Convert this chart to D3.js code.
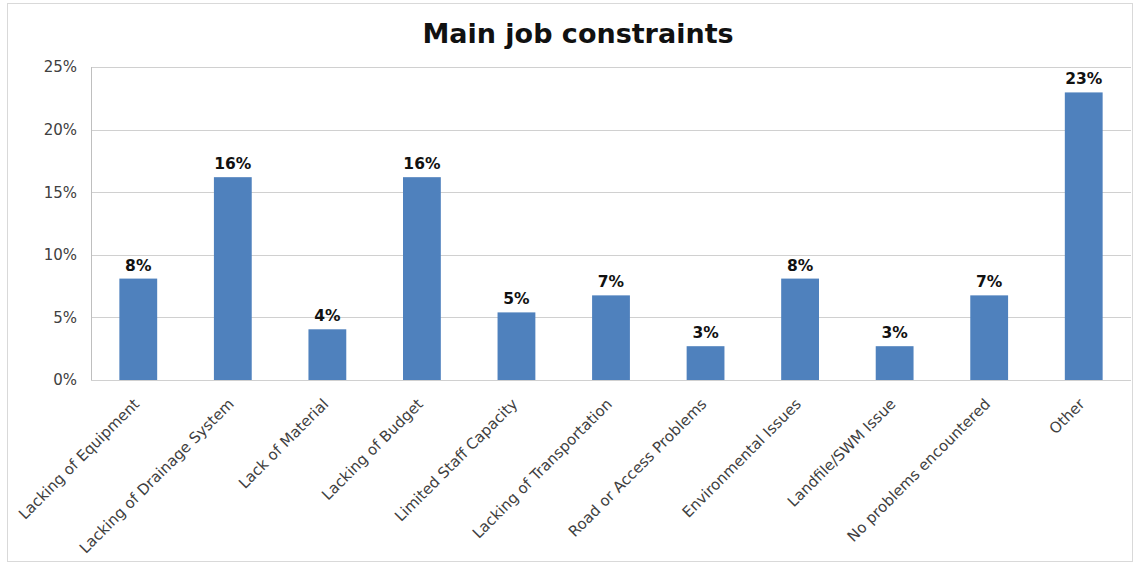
<!DOCTYPE html>
<meta charset="UTF-8">
<style>
body { margin: 0; background: #fff; }
.grid line { stroke: #d0d0d0; stroke-width: 1px; }
.axis text { font: 15px "DejaVu Sans", Verdana, sans-serif; fill: #404040; }
.bar { fill: #4f81bd; }
.val { font: bold 15.5px "DejaVu Sans", Verdana, sans-serif; fill: #111; }
</style>
<body>
<script src="https://d3js.org/d3.v7.min.js"></script>
<script>
// categories and values (percent of responses)
var categories = ["Lacking of Equipment", "Lacking of Drainage System", "Lack of Material",
  "Lacking of Budget", "Limited Staff Capacity", "Lacking of Transportation",
  "Road or Access Problems", "Environmental Issues", "Landfile/SWM Issue",
  "No problems encountered", "Other"];
var values = [8.1, 16.2, 4.05, 16.2, 5.4, 6.76, 2.7, 8.1, 2.7, 6.76, 22.97];
var yTicks = [0, 5, 10, 15, 20, 25];

var W = 1138, H = 563;
var margin = {top: 67, right: 7, bottom: 183, left: 91};

var svg = d3.select("body").append("svg")
    .attr("width", W)
    .attr("height", H);

// outer frame
svg.append("rect")
    .attr("x", 7.5).attr("y", 3.5)
    .attr("width", 1125).attr("height", 558)
    .attr("fill", "#fff")
    .attr("stroke", "#d9d9d9");

var x = d3.scaleBand()
    .domain(categories)
    .range([margin.left, W - margin.right])
    .paddingInner(0.6)
    .paddingOuter(0.3);

var y = d3.scaleLinear()
    .domain([0, 25])
    .range([H - margin.bottom, margin.top]);

// gridlines
svg.append("g").attr("class", "grid")
  .selectAll("line")
  .data(yTicks)
  .enter().append("line")
    .attr("x1", margin.left).attr("x2", W - margin.right)
    .attr("y1", d => Math.round(y(d)) + 0.5)
    .attr("y2", d => Math.round(y(d)) + 0.5);

// left axis line
svg.append("line")
    .attr("x1", margin.left + 0.5).attr("x2", margin.left + 0.5)
    .attr("y1", y(25)).attr("y2", y(0))
    .attr("stroke", "#bfbfbf");

// y tick labels
var yAxis = svg.append("g").attr("class", "axis")
    .attr("transform", "translate(" + margin.left + ",0)")
    .call(d3.axisLeft(y).tickValues(yTicks).tickFormat(d => d + "%").tickSize(0).tickPadding(14));
yAxis.select(".domain").remove();

// bars
svg.selectAll(".bar")
    .data(values)
  .enter().append("rect")
    .attr("class", "bar")
    .attr("x", (d, i) => x(categories[i]))
    .attr("width", x.bandwidth())
    .attr("y", d => y(d))
    .attr("height", d => y(0) - y(d));

// value labels
svg.selectAll(".val")
    .data(values)
  .enter().append("text")
    .attr("class", "val")
    .attr("x", (d, i) => x(categories[i]) + x.bandwidth() / 2)
    .attr("y", d => y(d) - 8)
    .attr("text-anchor", "middle")
    .text(d => Math.round(d) + "%");

// x labels rotated
var xAxis = svg.append("g").attr("class", "axis")
    .attr("transform", "translate(0," + y(0) + ")")
    .call(d3.axisBottom(x).tickSize(0).tickPadding(0));
xAxis.select(".domain").remove();
xAxis.selectAll("text")
    .style("font-size", "15px")
    .attr("text-anchor", "end")
    .attr("dy", null)
    .attr("y", 0)
    .attr("transform", "translate(2,25) rotate(-45)");

// title
svg.append("text")
    .attr("x", 578).attr("y", 43)
    .attr("text-anchor", "middle")
    .style("font", "bold 27px 'DejaVu Sans', Verdana, sans-serif")
    .attr("fill", "#111")
    .text("Main job constraints");
</script>
</body>
